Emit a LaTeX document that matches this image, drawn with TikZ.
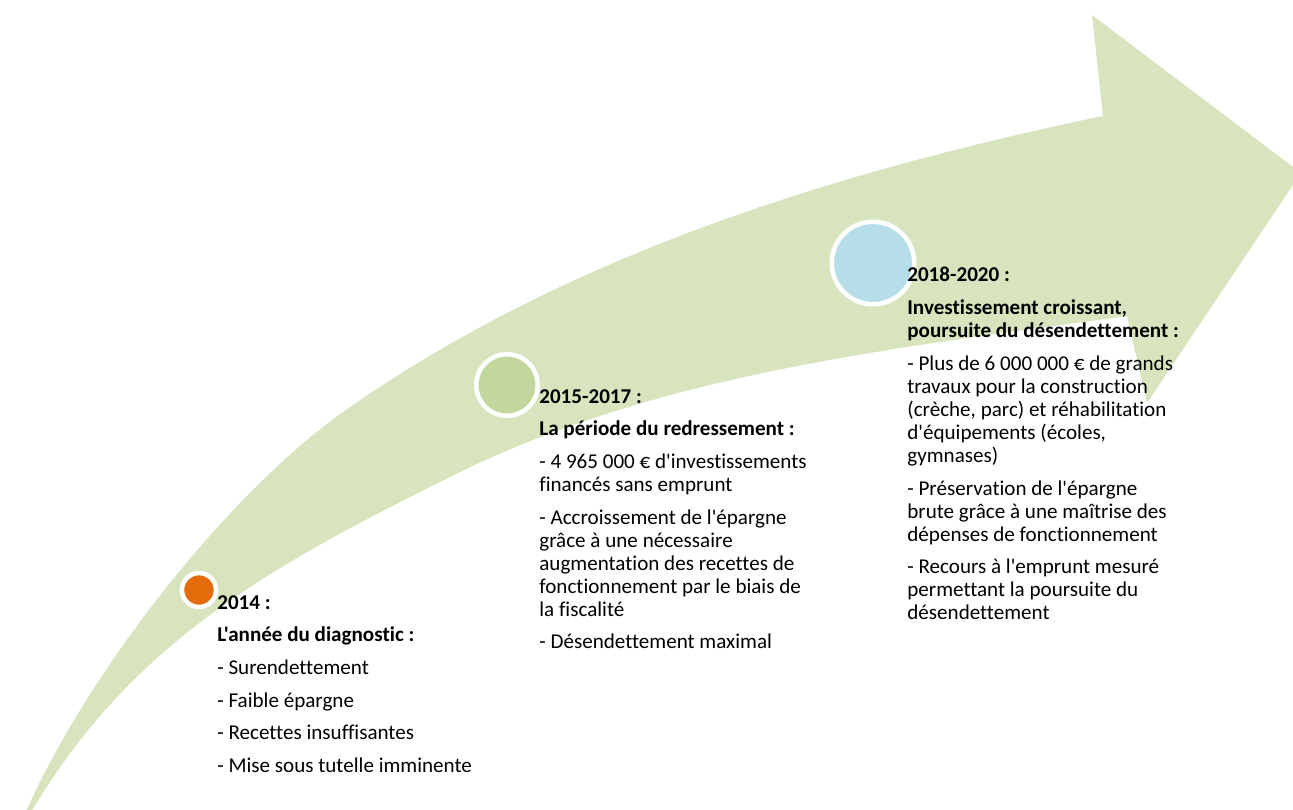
\documentclass[tikz,border=0pt]{standalone}
\usepackage{fontspec}
\setmainfont{Carlito}[Ligatures={TeXOff,NoCommon}]
\definecolor{bandgreen}{HTML}{D7E4BD}
\definecolor{dotgreen}{HTML}{C3D69B}
\definecolor{dotblue}{HTML}{B7DEE8}
\definecolor{dotorange}{HTML}{E46C0A}
\tikzstyle{milestone}=[circle,draw=white,line width=0.09cm,inner sep=0pt]
\tikzstyle{period}=[anchor=north west,align=left,inner sep=0pt,font=\fontsize{12}{13.1}\selectfont]

\begin{document}
\begin{tikzpicture}[x=0.02cm,y=-0.02cm]
\useasboundingbox (0,0) rectangle (1293,809);
\clip (0,0) rectangle (1293,809);
% curved arrow
\fill[bandgreen] (25,814) .. controls (85,676) and (227,492) .. (350,407)
  .. controls (572,253) and (839,171) .. (1103,116)
  -- (1092,15) -- (1301,173) -- (1147,403) -- (1127,316)
  .. controls (897,348) and (657,373) .. (450,477)
  .. controls (271,566) and (131,642) .. (30,814)
  -- cycle;
% milestones
\node[milestone,fill=dotorange,minimum size=0.68cm] at (199,590) (d2014) {};
\node[milestone,fill=dotgreen,minimum size=1.23cm] at (507,385) (d2015) {};
\node[milestone,fill=dotblue,minimum size=1.65cm] at (873,263) (d2018) {};
% texts
\node[period] at (217,595) (t2014) {\textbf{2014 :}\\[5.5pt]
  \textbf{L'année du diagnostic :}\\[5.5pt]
  - Surendettement\\[5.5pt]
  - Faible épargne\\[5.5pt]
  - Recettes insuffisantes\\[5.5pt]
  - Mise sous tutelle imminente};
\node[period] at (539,389) (t2015) {\textbf{2015-2017 :}\\[5.5pt]
  \textbf{La période du redressement :}\\[5.5pt]
  - 4 965 000 € d'investissements\\
  financés sans emprunt\\[5.5pt]
  - Accroissement de l'épargne\\
  grâce à une nécessaire\\
  augmentation des recettes de\\
  fonctionnement par le biais de\\
  la fiscalité\\[5.5pt]
  - Désendettement maximal};
\node[period] at (907,267) (t2018) {\textbf{2018-2020 :}\\[5.5pt]
  \textbf{Investissement croissant,}\\
  \textbf{poursuite du désendettement :}\\[5.5pt]
  - Plus de 6 000 000 € de grands\\
  travaux pour la construction\\
  (crèche, parc) et réhabilitation\\
  d'équipements (écoles,\\
  gymnases)\\[5.5pt]
  - Préservation de l'épargne\\
  brute grâce à une maîtrise des\\
  dépenses de fonctionnement\\[5.5pt]
  - Recours à l'emprunt mesuré\\
  permettant la poursuite du\\
  désendettement};
\end{tikzpicture}
\end{document}
